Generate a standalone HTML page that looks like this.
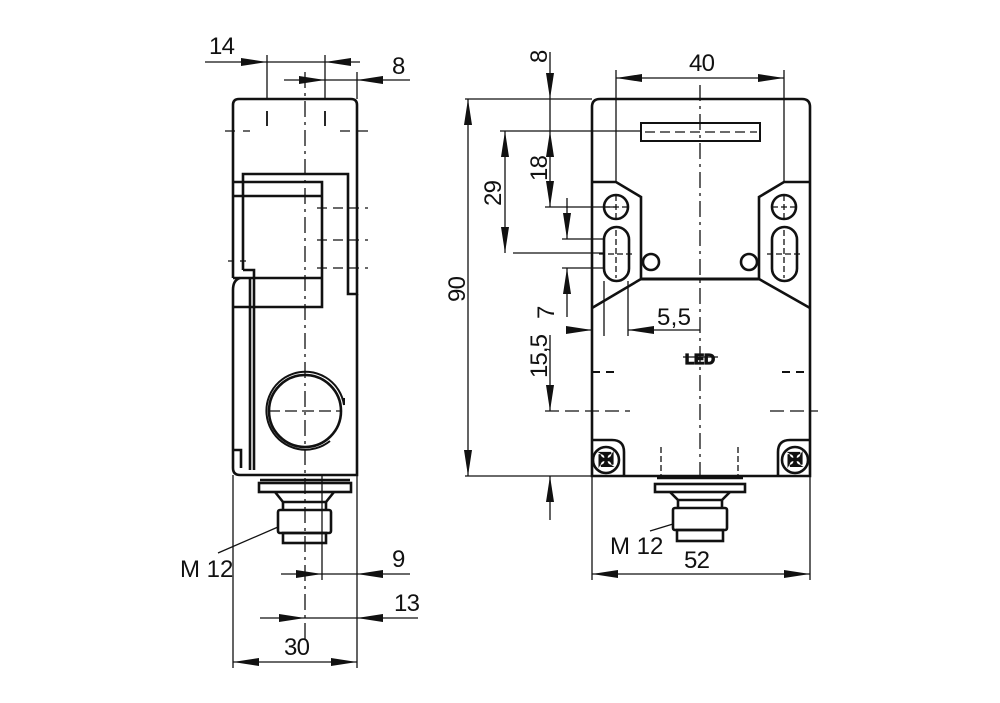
<!DOCTYPE html>
<html><head><meta charset="utf-8"><style>
html,body{margin:0;padding:0;background:#fff}
svg{display:block}
text{font-family:"Liberation Sans",sans-serif;font-size:24px;fill:#111}
</style></head><body>
<svg width="1000" height="703" viewBox="0 0 1000 703" xmlns="http://www.w3.org/2000/svg">
<defs>
<marker id="a" viewBox="0 0 26 8" refX="26" refY="4" markerWidth="26" markerHeight="8" orient="auto" markerUnits="userSpaceOnUse"><path d="M0,0 L26,4 L0,8 z" fill="#111"/></marker>
</defs>
<g stroke="#111" fill="none" stroke-width="1.3">
<g stroke-width="2.6">
<path d="M233,105 Q233,99 239,99 L351,99 Q357,99 357,105 L357,294 L348,294 L348,174 L243,174 L243,270"/>
<path d="M233,105 L233,278"/>
<path d="M233,182 L322,182 L322,307 L233,307"/>
<path d="M233,196 L322,196"/>
<path d="M233,278 L322,278"/>
<path d="M243,270 L254,270 L254,470"/>
<path d="M250,278 L250,470"/>
<path d="M240,278 Q233,280 233,290 L233,468 Q233,475 240,475 L357,475 L357,294"/>
<path d="M233,450 L241,450 L241,468"/>
<circle cx="305" cy="411" r="36"/>
<path d="M330,441 A39,39 0 1 1 344,405 L344,398" stroke-width="2"/>
<rect x="259" y="483" width="92" height="9"/>
<path d="M260,480 L350,480"/>
<path d="M275,492 L283,502 L326,502 L334,492"/>
<rect x="278" y="510" width="53" height="23" rx="2"/>
<rect x="283" y="533" width="43" height="10"/>
<path d="M283,502 L283,510 M326,502 L326,510"/>
</g>
<path d="M305,72 L305,640" stroke-dasharray="16,5,3,5"/>
<path d="M267,111 L267,126 M325,111 L325,126" stroke-width="1.8"/>
<path d="M225,131 L250,131 M340,131 L375,131" stroke-dasharray="10,8"/>
<path d="M317,208 L368,208 M317,240 L368,240 M317,268 L368,268" stroke-dasharray="10,6"/>
<path d="M228,261 L252,261" stroke-dasharray="6,6"/>
<path d="M268,411 L342,411" stroke-dasharray="12,5"/>
<path d="M322,475 L322,580"/>
<path d="M267,55 L267,99 M325,55 L325,99 M357,72 L357,99"/>
<path d="M205,62 L267,62" marker-end="url(#a)"/>
<path d="M360,62 L325,62" marker-end="url(#a)"/>
<path d="M267,62 L325,62"/>
<path d="M284,80 L325,80" marker-end="url(#a)"/>
<path d="M410,80 L357,80" marker-end="url(#a)"/>
<path d="M325,80 L357,80"/>
<path d="M233,475 L233,668 M357,475 L357,668"/>
<path d="M281,574 L322,574" marker-end="url(#a)"/>
<path d="M410,574 L357,574" marker-end="url(#a)"/>
<path d="M322,574 L357,574"/>
<path d="M260,618 L305,618" marker-end="url(#a)"/>
<path d="M418,618 L357,618" marker-end="url(#a)"/>
<path d="M305,618 L357,618"/>
<path d="M295,662 L233,662" marker-end="url(#a)"/>
<path d="M295,662 L357,662" marker-end="url(#a)"/>
<path d="M278,527 L218,553"/>

<g stroke-width="2.6">
<path d="M592,476 L592,107 Q592,99 600,99 L802,99 Q810,99 810,107 L810,476 Z"/>
<path d="M641,123 L760,123 M641,141 L760,141 M641,122 L641,142 M760,122 L760,142" stroke-width="2"/>
<path d="M592,182 L616,182 L641,197 L641,279 L592,308"/>
<path d="M810,182 L784,182 L759,197 L759,279 L810,308"/>
<path d="M641,279 L759,279" stroke-width="3"/>
<circle cx="616" cy="207" r="12"/>
<rect x="604" y="227" width="25" height="54" rx="12.5"/>
<circle cx="784" cy="207" r="12"/>
<rect x="772" y="227" width="25" height="54" rx="12.5"/>
<circle cx="651" cy="262" r="8"/>
<circle cx="749" cy="262" r="8"/>
<path d="M592,440 L612,440 Q624,440 624,452 L624,476"/>
<path d="M810,440 L790,440 Q778,440 778,452 L778,476"/>
<circle cx="606" cy="460" r="13"/>
<circle cx="795" cy="460" r="13"/>
<rect x="655" y="484" width="90" height="8"/>
<path d="M657,478 L743,478"/>
<path d="M670,492 L678,500 L722,500 L730,492"/>
<rect x="673" y="508" width="54" height="22" rx="2"/>
<rect x="677" y="530" width="46" height="11"/>
<path d="M678,500 L678,508 M722,500 L722,508"/>
</g>
<text x="606" y="466" text-anchor="middle" style="font-size:18px;font-weight:bold">✠</text>
<text x="795" y="466" text-anchor="middle" style="font-size:18px;font-weight:bold">✠</text>
<path d="M700,85 L700,475" stroke-dasharray="16,5,3,5"/>
<path d="M645,132 L757,132" stroke-dasharray="10,5"/>
<path d="M616,195 L616,220 M604,207 L628,207 M784,195 L784,220 M772,207 L796,207" stroke-dasharray="6,3"/>
<path d="M616,230 L616,278 M599,254 L633,254 M784,230 L784,278 M767,254 L801,254" stroke-dasharray="6,3"/>
<path d="M592,372 L620,372 M782,372 L810,372" stroke-dasharray="8,6" stroke-width="2"/>
<path d="M545,411 L630,411 M770,411 L818,411" stroke-dasharray="14,6"/>
<path d="M661,447 L661,475 M738,447 L738,475" stroke-dasharray="6,3"/>
<text x="700" y="364" text-anchor="middle" style="font-size:15px;font-weight:bold">LED</text>
<path d="M683,357 L718,357"/>
<path d="M616,70 L616,182 M784,70 L784,182"/>
<path d="M700,78 L616,78" marker-end="url(#a)"/>
<path d="M700,78 L784,78" marker-end="url(#a)"/>
<path d="M465,99 L592,99 M465,476 L592,476"/>
<path d="M468,288 L468,99" marker-end="url(#a)"/>
<path d="M468,288 L468,476" marker-end="url(#a)"/>
<path d="M500,131 L641,131 M513,253 L604,253"/>
<path d="M505,192 L505,131" marker-end="url(#a)"/>
<path d="M505,192 L505,253" marker-end="url(#a)"/>
<path d="M550,52 L550,99" marker-end="url(#a)"/>
<path d="M550,99 L550,131"/>
<path d="M550,165 L550,131" marker-end="url(#a)"/>
<path d="M550,165 L550,207" marker-end="url(#a)"/>
<path d="M545,207 L616,207 M562,239 L604,239 M562,268 L604,268"/>
<path d="M567,198 L567,239" marker-end="url(#a)"/>
<path d="M567,317 L567,268" marker-end="url(#a)"/>
<path d="M567,330 L592,330" marker-end="url(#a)"/>
<path d="M660,330 L628,330" marker-end="url(#a)"/>
<path d="M660,330 L700,330 M604,281 L604,336 M628,281 L628,336"/>
<path d="M550,335 L550,411" marker-end="url(#a)"/>
<path d="M550,520 L550,476" marker-end="url(#a)"/>
<path d="M592,476 L592,580 M810,476 L810,580"/>
<path d="M700,574 L592,574" marker-end="url(#a)"/>
<path d="M700,574 L810,574" marker-end="url(#a)"/>
<path d="M673,524 L650,531"/>
</g>
<text x="209" y="54" textLength="26">14</text>
<text x="392" y="74">8</text>
<text x="392" y="567">9</text>
<text x="394" y="611" textLength="26">13</text>
<text x="284" y="655" textLength="26">30</text>
<text x="180" y="577">M 12</text>
<text x="689" y="71" textLength="26">40</text>
<text x="684" y="568" textLength="26">52</text>
<text x="610" y="554">M 12</text>
<text x="657" y="325" textLength="34">5,5</text>
<text transform="translate(465,302) rotate(-90)" textLength="26">90</text>
<text transform="translate(501,206) rotate(-90)" textLength="26">29</text>
<text transform="translate(547,63) rotate(-90)">8</text>
<text transform="translate(547,181) rotate(-90)" textLength="26">18</text>
<text transform="translate(554,319) rotate(-90)">7</text>
<text transform="translate(547,378) rotate(-90)" textLength="44">15,5</text>
</svg>
</body></html>
